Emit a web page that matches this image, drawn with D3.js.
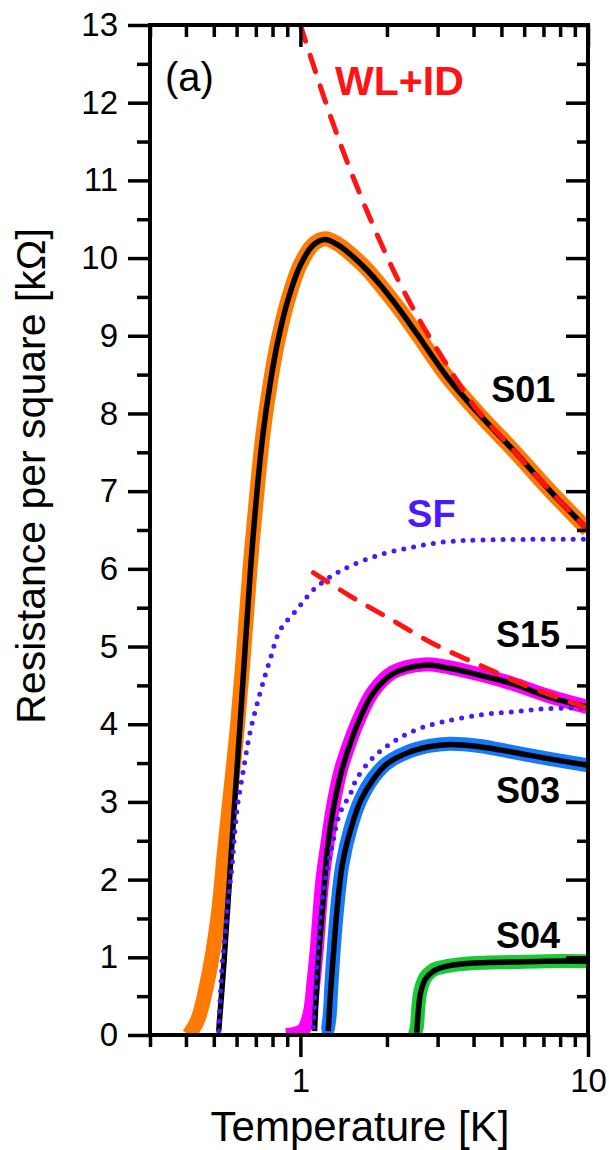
<!DOCTYPE html>
<html>
<head>
<meta charset="utf-8">
<title>Resistance per square vs temperature</title>
<script src="https://d3js.org/d3.v7.min.js"></script>
<style>
  body { margin: 0; background: #fff; }
  svg text { font-family: "Liberation Sans", Arial, sans-serif; }
</style>
</head>
<body>
<div id="chart"></div>
<script>
// Ticks
const xMajorTicks = [1, 10]
const xMinorTicks = [0.3, 0.4, 0.5, 0.6, 0.7, 0.8, 0.9, 2, 3, 4, 5, 6, 7, 8, 9]
const yMajorTicks = [0, 1, 2, 3, 4, 5, 6, 7, 8, 9, 10, 11, 12, 13]
const yMinorTicks = [0.5, 1.5, 2.5, 3.5, 4.5, 5.5, 6.5, 7.5, 8.5, 9.5, 10.5, 11.5, 12.5]

// Measured data [T (K), R (kOhm)]
const s01Data = [[0.41, 0], [0.44, 0.2], [0.474, 0.67], [0.517, 1.52], [0.545, 2.38], [0.575, 3.2], [0.605, 4.0],
  [0.637, 5.0], [0.668, 6.0], [0.706, 6.98], [0.742, 7.75], [0.784, 8.37], [0.836, 8.94], [0.905, 9.46], [1.0, 9.92],
  [1.11, 10.18], [1.22, 10.25], [1.35, 10.18], [1.5, 10.05], [1.7, 9.86], [1.89, 9.66], [2.2, 9.35], [2.57, 9.0],
  [3.24, 8.47], [4.21, 7.98], [5.49, 7.53], [7.19, 7.05], [10, 6.5]]
const s15Data = [[0.89, 0], [0.97, 0.02], [1.03, 0.08], [1.08, 0.3], [1.11, 0.67], [1.14, 1.1], [1.19, 1.96], [1.24, 2.45],
  [1.3, 2.95], [1.38, 3.4], [1.49, 3.78], [1.6, 4.07], [1.79, 4.42], [2.1, 4.67], [2.7, 4.77], [3.3, 4.73], [4.21, 4.64],
  [5.49, 4.52], [7.19, 4.37], [10, 4.22]]
const s03Data = [[1.19, 0], [1.23, 0.02], [1.26, 0.2], [1.28, 0.6], [1.3, 1.0], [1.34, 1.6], [1.4, 2.2], [1.5, 2.68],
  [1.62, 3.03], [1.8, 3.32], [2.0, 3.5], [2.35, 3.64], [2.8, 3.72], [3.3, 3.75], [4.21, 3.72], [5.49, 3.64],
  [7.19, 3.56], [10, 3.47]]
const s04Data = [[2.5, 0], [2.54, 0.1], [2.57, 0.35], [2.62, 0.58], [2.72, 0.74], [2.85, 0.82], [3.0, 0.86], [3.4, 0.9],
  [4.2, 0.93], [5.5, 0.94], [7.2, 0.95], [10, 0.95]]

// Fits [T (K), R (kOhm)]
const s01Fit = [[0.52, 0.05], [0.544, 1], [0.567, 2], [0.591, 3], [0.617, 4], [0.643, 5], [0.671, 6], [0.706, 6.98],
  [0.742, 7.75], [0.784, 8.37], [0.836, 8.94], [0.905, 9.46], [1.0, 9.91], [1.11, 10.17], [1.22, 10.24], [1.35, 10.17],
  [1.5, 10.04], [1.7, 9.85], [1.89, 9.66], [2.2, 9.35], [2.57, 9.0], [3.24, 8.47], [4.21, 7.98], [5.49, 7.53],
  [7.19, 7.05], [10, 6.5]]
const s15Fit = [[1.12, 0.05], [1.15, 0.88], [1.2, 1.74], [1.24, 2.38], [1.3, 2.9], [1.38, 3.35], [1.49, 3.75], [1.6, 4.05],
  [1.79, 4.4], [2.1, 4.65], [2.7, 4.76], [3.3, 4.72], [4.21, 4.63], [5.49, 4.52], [7.19, 4.36], [10, 4.22]]
const s03Fit = [[1.25, 0.05], [1.27, 0.5], [1.3, 1.0], [1.34, 1.6], [1.4, 2.2], [1.5, 2.66], [1.62, 3.02], [1.8, 3.3],
  [2.0, 3.49], [2.35, 3.63], [2.8, 3.71], [3.3, 3.74], [4.21, 3.71], [5.49, 3.64], [7.19, 3.56], [10, 3.47]]
const s04Fit = [[2.54, 0.03], [2.57, 0.3], [2.62, 0.55], [2.72, 0.72], [2.85, 0.8], [3.0, 0.85], [3.4, 0.9], [4.2, 0.93],
  [5.5, 0.94], [7.2, 0.95], [10, 0.95]]

// WL+ID (dashed) and SF (dotted) curves
const wlidHigh = [[1.0, 13.0], [1.2, 12.1], [1.4, 11.4], [1.6, 10.85], [1.8, 10.4], [2.12, 9.82], [2.57, 9.23],
  [3.2, 8.65], [4.07, 8.07], [5.49, 7.53], [7.19, 7.05], [10, 6.5]]
const wlidLow = [[1.11, 5.95], [1.49, 5.65], [2.02, 5.37], [2.92, 5.03], [4.21, 4.76], [6.06, 4.5], [8.78, 4.28], [10, 4.2]]
const sfHigh = [[0.52, 0.05], [0.534, 0.88], [0.548, 1.31], [0.56, 1.74], [0.578, 2.16], [0.591, 2.6], [0.604, 2.94],
  [0.631, 3.37], [0.668, 3.89], [0.724, 4.4], [0.784, 4.83], [0.85, 5.21], [0.97, 5.47], [1.11, 5.73], [1.3, 5.92],
  [1.52, 6.05], [1.89, 6.18], [2.46, 6.28], [3.24, 6.35], [4.21, 6.37], [6.28, 6.38], [10, 6.38]]
const sfLow = [[1.11, 0.1], [1.14, 0.88], [1.19, 1.74], [1.3, 2.5], [1.37, 2.85], [1.49, 3.1], [1.57, 3.3], [1.79, 3.57],
  [2.1, 3.77], [2.53, 3.93], [3.13, 4.03], [4.21, 4.12], [5.49, 4.16], [7.19, 4.2], [10, 4.21]]

const w = 609
const h = 1150
const plotLeft = 150, plotRight = 588, plotTop = 25, plotBottom = 1035

const x = d3.scaleLog().domain([0.3, 10]).range([plotLeft, plotRight])
const y = d3.scaleLinear().domain([0, 13]).range([plotBottom, plotTop])

const svg = d3.select("#chart").append("svg")
  .attr("width", w)
  .attr("height", h)

svg.append("defs").append("clipPath").attr("id", "plot-clip")
  .append("rect")
  .attr("x", plotLeft).attr("y", plotTop)
  .attr("width", plotRight - plotLeft).attr("height", plotBottom - plotTop)

const line = d3.line()
  .x(d => x(d[0]))
  .y(d => y(d[1]))
  .curve(d3.curveCatmullRom.alpha(0.5))

const plot = svg.append("g").attr("clip-path", "url(#plot-clip)")

const drawPath = (data, color, width, dash) => {
  const p = plot.append("path")
    .datum(data)
    .attr("d", line)
    .attr("fill", "none")
    .attr("stroke", color)
    .attr("stroke-width", width)
    .attr("stroke-linejoin", "round")
  if (dash) p.attr("stroke-dasharray", dash).attr("stroke-linecap", "round")
  return p
}

// data bands
drawPath(s01Data, "#ff7a00", 15)
drawPath(s15Data, "#ff00ff", 14)
drawPath(s03Data, "#1479ff", 14)
drawPath(s04Data, "#19c935", 14)

// fits
drawPath(s01Fit, "#000", 5.5)
drawPath(s15Fit, "#000", 5.5)
drawPath(s03Fit, "#000", 5.5)
drawPath(s04Fit, "#000", 5.5)

// models
drawPath(sfHigh, "#4a1aff", 5, "0,10")
drawPath(sfLow, "#4a1aff", 5, "0,10")
drawPath(wlidHigh, "#ff1414", 5, "17,15")
drawPath(wlidLow, "#ff1414", 5, "17,15")

// Axes
const styleAxis = g => {
  g.select(".domain").remove()
  g.selectAll(".tick line").attr("stroke", "#000").attr("stroke-width", 3.5)
  g.selectAll(".tick text").attr("font-size", 33).attr("fill", "#000")
    .attr("font-family", "'Liberation Sans', Arial, sans-serif")
}

// bottom
svg.append("g").attr("transform", `translate(0,${plotBottom})`)
  .call(d3.axisBottom(x).tickValues(xMajorTicks).tickSize(22).tickPadding(12).tickFormat(d3.format("d")))
  .call(styleAxis)
svg.append("g").attr("transform", `translate(0,${plotBottom})`)
  .call(d3.axisBottom(x).tickValues(xMinorTicks).tickSize(12).tickFormat(""))
  .call(styleAxis)
// top (inward)
svg.append("g").attr("transform", `translate(0,${plotTop})`)
  .call(d3.axisBottom(x).tickValues(xMajorTicks).tickSize(22).tickFormat(""))
  .call(styleAxis)
svg.append("g").attr("transform", `translate(0,${plotTop})`)
  .call(d3.axisBottom(x).tickValues(xMinorTicks).tickSize(12).tickFormat(""))
  .call(styleAxis)
// left
svg.append("g").attr("transform", `translate(${plotLeft},0)`)
  .call(d3.axisLeft(y).tickValues(yMajorTicks).tickSize(22).tickPadding(10).tickFormat(d3.format("d")))
  .call(styleAxis)
svg.append("g").attr("transform", `translate(${plotLeft},0)`)
  .call(d3.axisLeft(y).tickValues(yMinorTicks).tickSize(13).tickFormat(""))
  .call(styleAxis)
// right (inward)
svg.append("g").attr("transform", `translate(${plotRight},0)`)
  .call(d3.axisLeft(y).tickValues(yMajorTicks).tickSize(22).tickFormat(""))
  .call(styleAxis)
svg.append("g").attr("transform", `translate(${plotRight},0)`)
  .call(d3.axisLeft(y).tickValues(yMinorTicks).tickSize(11).tickFormat(""))
  .call(styleAxis)

// frame
svg.append("rect")
  .attr("x", plotLeft).attr("y", plotTop)
  .attr("width", plotRight - plotLeft).attr("height", plotBottom - plotTop)
  .attr("fill", "none")
  .attr("stroke", "#000")
  .attr("stroke-width", 4)

// Axis titles
svg.append("text")
  .attr("x", 360)
  .attr("y", 1141)
  .attr("text-anchor", "middle")
  .attr("font-size", 42)
  .text("Temperature [K]")

svg.append("text")
  .attr("transform", "translate(45,476)rotate(-90)")
  .attr("text-anchor", "middle")
  .attr("font-size", 41)
  .text("Resistance per square [kΩ]")

// Annotations (placed in data coordinates)
const note = (txt, t, r, opts) => svg.append("text")
  .attr("x", x(t))
  .attr("y", y(r))
  .attr("text-anchor", opts.anchor || "start")
  .attr("font-size", opts.size)
  .attr("font-weight", opts.bold ? "bold" : "normal")
  .attr("fill", opts.color || "#000")
  .text(txt)

note("(a)", 0.338, 12.15, { size: 40 })
note("WL+ID", 1.32, 12.1, { size: 41, bold: true, color: "#ff1414" })
note("S01", 7.7, 8.15, { size: 36, bold: true, anchor: "end" })
note("SF", 2.35, 6.54, { size: 38, bold: true, color: "#4a1aff" })
note("S15", 8.0, 5.0, { size: 36, bold: true, anchor: "end" })
note("S03", 8.0, 2.99, { size: 36, bold: true, anchor: "end" })
note("S04", 8.0, 1.12, { size: 36, bold: true, anchor: "end" })
</script>
</body>
</html>
